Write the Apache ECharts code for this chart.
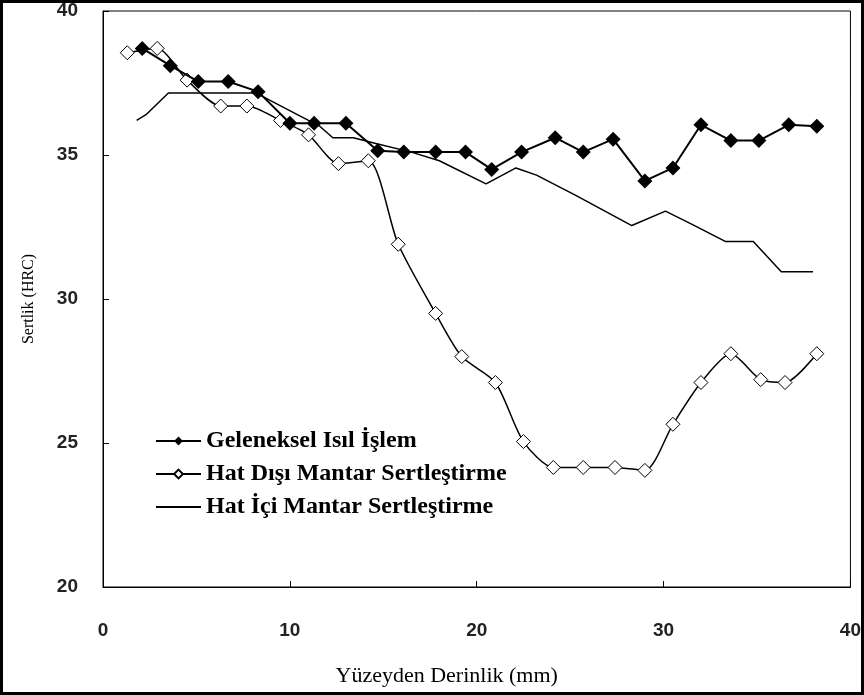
<!DOCTYPE html>
<html>
<head>
<meta charset="utf-8">
<script src="https://cdn.jsdelivr.net/npm/echarts@6/dist/echarts.min.js"></script>
<style>
  html, body { margin: 0; padding: 0; background: #fff; }
  #chart { width: 864px; height: 695px; }
</style>
</head>
<body>
<div id="chart"></div>
<script>
// Geleneksel Isil Islem (dolu baklava)
var gelX = [2.1, 3.6, 5.1, 6.7, 8.3, 10.0, 11.3, 13.0, 14.7, 16.1, 17.8, 19.4, 20.8, 22.4, 24.2, 25.7, 27.3, 29.0, 30.5, 32.0, 33.6, 35.1, 36.7, 38.2];
var gelY = [38.7, 38.1, 37.55, 37.55, 37.2, 36.1, 36.1, 36.1, 35.15, 35.1, 35.1, 35.1, 34.5, 35.1, 35.6, 35.1, 35.55, 34.1, 34.55, 36.05, 35.5, 35.5, 36.05, 36.0];

// Hat Disi Mantar Sertlestirme (bos baklava)
var disX = [1.3, 2.9, 4.5, 6.3, 7.7, 9.5, 11.0, 12.6, 14.2, 15.8, 17.8, 19.2, 21.0, 22.5, 24.1, 25.7, 27.4, 29.0, 30.5, 32.0, 33.6, 35.2, 36.5, 38.2];
var disY = [38.55, 38.7, 37.6, 36.7, 36.7, 36.2, 35.7, 34.7, 34.8, 31.9, 29.5, 28.0, 27.1, 25.05, 24.15, 24.15, 24.15, 24.05, 25.65, 27.1, 28.1, 27.2, 27.1, 28.1];

// Hat Ici Mantar Sertlestirme (duz cizgi)
var iciX = [1.8, 2.3, 3.5, 8.2, 10.4, 11.6, 12.3, 13.4, 14.6, 16.5, 18.0, 20.5, 22.1, 23.2, 25.3, 28.3, 30.1, 31.5, 33.3, 34.8, 36.3, 38.0];
var iciY = [36.2, 36.4, 37.15, 37.15, 36.4, 36.0, 35.6, 35.6, 35.4, 35.1, 34.8, 34.0, 34.55, 34.3, 33.6, 32.55, 33.05, 32.6, 32.0, 32.0, 30.95, 30.95];

var seriesNames = ['Geleneksel Isıl İşlem', 'Hat Dışı Mantar Sertleştirme', 'Hat İçi Mantar Sertleştirme'];

function pairs(xs, ys) {
    var out = [];
    for (var i = 0; i < xs.length; i++) {
        out.push([xs[i], ys[i]]);
    }
    return out;
}

var chart = echarts.init(document.getElementById('chart'));
var option = {
    backgroundColor: '#fff',
    animation: false,
    grid: {
        left: 103, top: 11, right: 11, bottom: 108,
        show: true, borderColor: '#000', borderWidth: 1
    },
    legend: {
        orient: 'vertical',
        left: 150, top: 424,
        itemWidth: 45, itemHeight: 11,
        itemGap: 9,
        textStyle: {
            fontFamily: 'Liberation Serif', fontWeight: 'bold',
            fontSize: 24, color: '#000'
        },
        data: [
            { name: seriesNames[0] },
            { name: seriesNames[1] },
            { name: seriesNames[2], itemStyle: { opacity: 0 } }
        ]
    },
    xAxis: {
        type: 'value', min: 0, max: 40, interval: 10,
        name: 'Yüzeyden Derinlik (mm)',
        nameLocation: 'middle', nameGap: 78,
        nameTextStyle: {
            fontFamily: 'Liberation Serif', fontSize: 22, color: '#000',
            padding: [0, 60, 0, 0]
        },
        axisLine: { lineStyle: { color: '#000', width: 1 } },
        axisTick: { inside: true, length: 6, lineStyle: { color: '#000' } },
        axisLabel: {
            margin: 34, fontFamily: 'Liberation Sans', fontWeight: 'bold',
            fontSize: 19, color: '#222'
        },
        splitLine: { show: false }
    },
    yAxis: {
        type: 'value', min: 20, max: 40, interval: 5,
        name: 'Sertlik (HRC)',
        nameLocation: 'middle', nameGap: 66,
        nameTextStyle: { fontFamily: 'Liberation Serif', fontSize: 16, color: '#000' },
        axisLine: { show: true, lineStyle: { color: '#000', width: 1 } },
        axisTick: { inside: true, length: 6, lineStyle: { color: '#000' } },
        axisLabel: {
            margin: 25, fontFamily: 'Liberation Sans', fontWeight: 'bold',
            fontSize: 19, color: '#222'
        },
        splitLine: { show: false }
    },
    series: [
        {
            name: seriesNames[0], type: 'line',
            data: pairs(gelX, gelY),
            symbol: 'diamond', symbolSize: 15,
            itemStyle: { color: '#000' },
            lineStyle: { color: '#000', width: 2 },
            z: 4
        },
        {
            name: seriesNames[1], type: 'line',
            data: pairs(disX, disY),
            smooth: 0.25,
            symbol: 'diamond', symbolSize: 14,
            itemStyle: { color: '#fff', borderColor: '#000', borderWidth: 1 },
            lineStyle: { color: '#000', width: 1.5 },
            z: 3
        },
        {
            name: seriesNames[2], type: 'line',
            data: pairs(iciX, iciY),
            symbol: 'none',
            itemStyle: { color: '#000' },
            lineStyle: { color: '#000', width: 1.5 },
            z: 2
        }
    ],
    graphic: [
        {
            type: 'rect',
            shape: { x: 1.5, y: 1.5, width: 861, height: 692 },
            style: { fill: null, stroke: '#000', lineWidth: 3 },
            silent: true
        }
    ]
};
chart.setOption(option);
</script>
</body>
</html>
